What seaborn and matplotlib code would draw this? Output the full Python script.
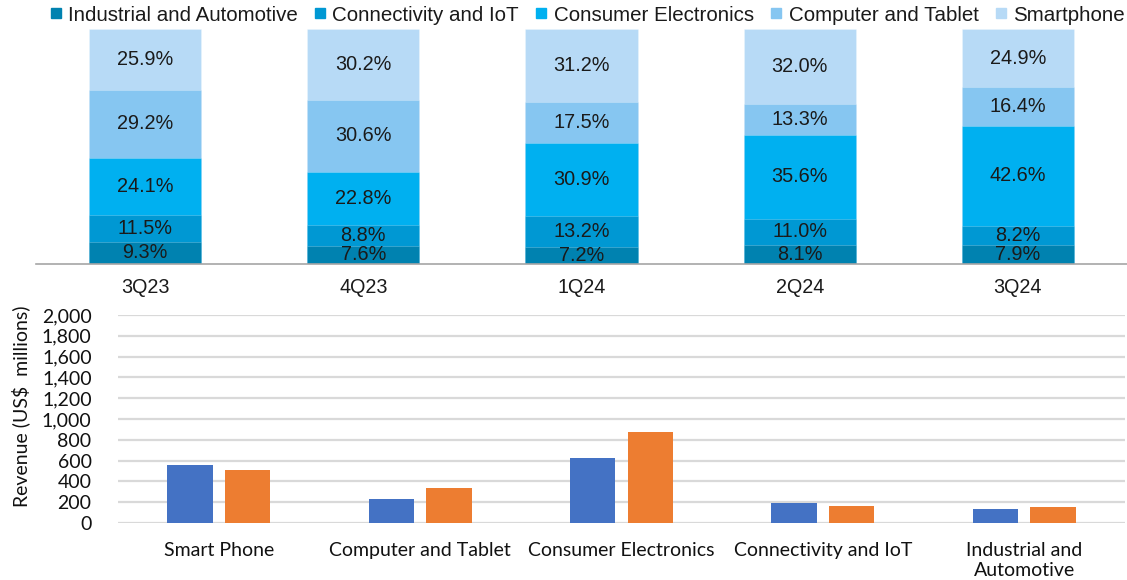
import matplotlib
matplotlib.use("Agg")
import matplotlib.pyplot as plt
from matplotlib.lines import Line2D
import numpy as np
import pandas as pd
import seaborn as sns

# --- Revenue share by application, per quarter (%) ---
quarters = ["3Q23", "4Q23", "1Q24", "2Q24", "3Q24"]
segments = ["Industrial and Automotive", "Connectivity and IoT",
            "Consumer Electronics", "Computer and Tablet", "Smartphone"]
share_industrial = [9.3, 7.6, 7.2, 8.1, 7.9]
share_connectivity = [11.5, 8.8, 13.2, 11.0, 8.2]
share_consumer = [24.1, 22.8, 30.9, 35.6, 42.6]
share_computer = [29.2, 30.6, 17.5, 13.3, 16.4]
share_smartphone = [25.9, 30.2, 31.2, 32.0, 24.9]
segment_colors = ["#0082B0", "#0098D3", "#00B0F0", "#86C6F1", "#B7DAF6"]

# --- Revenue by application (US$ millions) ---
categories = ["Smart Phone", "Computer and Tablet", "Consumer Electronics",
              "Connectivity and IoT", "Industrial and\nAutomotive"]
rev_2q24 = [562, 230, 626, 192, 137]
rev_3q24 = [508, 332, 872, 166, 156]
rev_periods = ["2Q24", "3Q24"]
rev_colors = ["#4472C4", "#ED7D31"]
y_ticks = [0, 200, 400, 600, 800, 1000, 1200, 1400, 1600, 1800, 2000]

sns.set_theme(style="white")
top_font = ["Liberation Sans", "DejaVu Sans"]
bottom_font = ["Lato", "DejaVu Sans"]

fig = plt.figure(figsize=(11.27, 5.80), dpi=100)

# ---------------- stacked share chart ----------------
ax1 = fig.add_axes([36 / 1127, 1 - 263.5 / 580, 1 - 36 / 1127, (263.5 - 29) / 580])
shares = np.array([share_industrial, share_connectivity, share_consumer,
                   share_computer, share_smartphone])
cum = np.cumsum(shares, axis=0)
bottoms = cum - shares

# draw cumulative totals from the top layer down so each segment shows through
for i in range(len(segments) - 1, -1, -1):
    sns.barplot(x=quarters, y=cum[i], color=segment_colors[i], width=0.515,
                saturation=1, linewidth=0.6, edgecolor=(1, 1, 1, 0.25), ax=ax1)

for i in range(len(segments)):
    for j in range(len(quarters)):
        ax1.text(j, bottoms[i, j] + shares[i, j] / 2, f"{shares[i, j]:.1f}%",
                 ha="center", va="center", fontsize=14.3, color="#1a1a1a",
                 family=top_font)

ax1.set_xlim(-0.5, 4.5)
ax1.set_ylim(0, 100)
ax1.set_yticks([])
ax1.set_xlabel("")
ax1.set_ylabel("")
for side in ["top", "right", "left"]:
    ax1.spines[side].set_visible(False)
ax1.spines["bottom"].set_color("#A6A6A6")
ax1.spines["bottom"].set_linewidth(1.2)
ax1.tick_params(axis="x", length=0, pad=10.5)
for lbl in ax1.get_xticklabels():
    lbl.set_fontsize(14.2)
    lbl.set_family(top_font)
    lbl.set_color("#1a1a1a")

handles = [Line2D([0], [0], marker="s", linestyle="", markersize=7,
                  markerfacecolor=c, markeredgecolor=c) for c in segment_colors]
fig.legend(handles, segments, loc="center", bbox_to_anchor=(0.5205, 0.974),
           ncol=5, frameon=False, handlelength=0.7, handletextpad=0.25,
           columnspacing=0.74, borderpad=0.1, prop={"family": top_font, "size": 14.8},
           labelcolor="#1a1a1a")

# ---------------- revenue chart ----------------
ax2 = fig.add_axes([118 / 1127, 1 - 523 / 580, 1 - 118 / 1127 - 2 / 1127, (523 - 315) / 580])
rev_df = pd.DataFrame({
    "category": categories * 2,
    "period": [rev_periods[0]] * len(categories) + [rev_periods[1]] * len(categories),
    "revenue": rev_2q24 + rev_3q24,
})
sns.barplot(data=rev_df, x="category", y="revenue", hue="period",
            order=categories, hue_order=rev_periods, palette=rev_colors,
            width=0.572, gap=0.215, saturation=1, linewidth=0, legend=False,
            ax=ax2)
ax2.set_xlim(-0.5, 4.5)
ax2.set_ylim(0, 2000)
ax2.set_yticks(y_ticks)
ax2.set_yticklabels([f"{v:,}" for v in y_ticks])
ax2.yaxis.grid(True, color="#D9D9D9", linewidth=1.6)
ax2.xaxis.grid(False)
ax2.set_axisbelow(True)
for side in ["top", "right", "left", "bottom"]:
    ax2.spines[side].set_visible(False)
ax2.tick_params(axis="y", length=0, pad=19)
ax2.tick_params(axis="x", length=0, pad=14)
for lbl in ax2.get_yticklabels() + ax2.get_xticklabels():
    lbl.set_fontsize(14)
    lbl.set_family(bottom_font)
    lbl.set_color("#111111")
ax2.set_xlabel("")
ax2.set_ylabel("Revenue (US$  millions)", fontsize=14, family=bottom_font,
               color="#111111")
ax2.yaxis.set_label_coords(-88 / 1007, 0.56)

fig.savefig("out.png", dpi=100)
